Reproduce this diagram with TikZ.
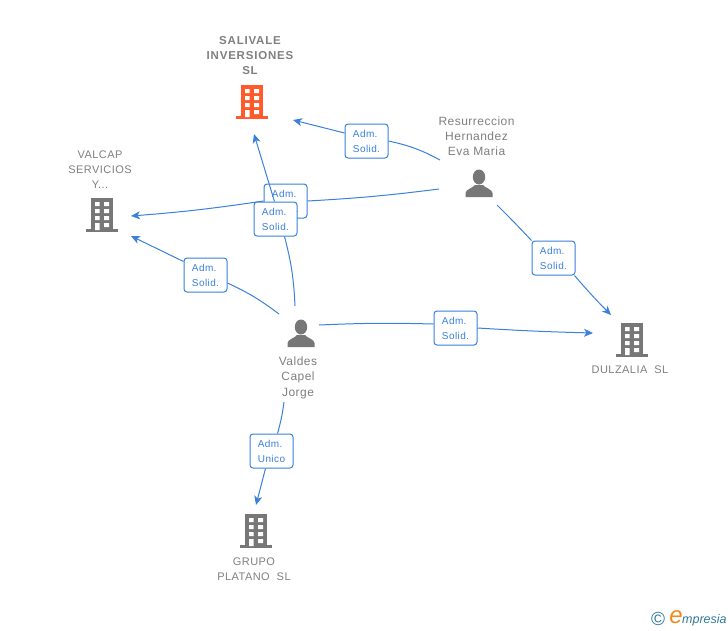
\documentclass[tikz,border=0pt]{standalone}
\usepackage{fontspec}
\setmainfont{Liberation Sans}
\newfontfamily\spaced[LetterSpace=4]{Liberation Sans}
\newfontfamily\spacedb[LetterSpace=7]{Liberation Sans}
\usetikzlibrary{arrows.meta}
\definecolor{linkblue}{HTML}{3A80DC}
\definecolor{icongray}{HTML}{777777}
\definecolor{txtgray}{HTML}{808080}
\definecolor{hotorange}{HTML}{FF5A2B}
\definecolor{tealb}{HTML}{2F7C96}
\definecolor{logoor}{HTML}{F08A1D}
\pgfdeclarelayer{edges}
\pgfdeclarelayer{lowbox}
\pgfdeclarelayer{midedge}
\pgfsetlayers{edges,lowbox,midedge,main}
\tikzset{
  x=1pt,y=-1pt,
  rolebox/.style={draw=linkblue,line width=1pt,fill=white,rounded corners=3pt,minimum width=43pt,minimum height=34pt,inner sep=0pt,align=left,text=linkblue,font=\fontsize{10}{15}\selectfont\spaced},
  linkline/.style={draw=linkblue,line width=1pt},
  linka/.style={linkline,-{Stealth[length=9pt,width=8pt,inset=2.5pt]}},
  holder/.style={minimum width=30pt,minimum height=30pt,inner sep=0pt},
  entname/.style={align=center,text=txtgray,inner sep=0pt},
  pics/tower/.style={code={
    \fill[#1] (-11,-17) rectangle (11,15);
    \fill[#1] (-16,14) rectangle (16,17);
    \fill[white] (-7,-13) rectangle (-2.5,-9) (2,-13) rectangle (7,-9)
                 (-7,-6) rectangle (-2.5,-2) (2,-6) rectangle (7,-2)
                 (-7,1) rectangle (-2.5,5) (2,1) rectangle (7,5)
                 (-7,8) rectangle (-2.5,15) (2,8) rectangle (7,12);
  }},
  pics/human/.style={code={
    \fill[icongray] (0,-7) ellipse (6.2 and 7.5);
    \fill[icongray] (-13.5,13) -- (-13.5,9) .. controls (-13,5) and (-6,4) .. (-4,1) -- (4,1) .. controls (6,4) and (13,5) .. (13.5,9) -- (13.5,13) -- cycle;
  }}
}
\begin{document}
\begin{tikzpicture}
\begin{pgfonlayer}{edges}
\fill[white] (0,0) rectangle (728,630);
\end{pgfonlayer}
\useasboundingbox (0,0) rectangle (728,630);
% icons
\node[holder] (sal) at (252,102) {}; \pic at (sal.center) {tower=hotorange};
\node[holder] (val) at (102,215) {}; \pic at (val.center) {tower=icongray};
\node[holder] (dul) at (632,340) {}; \pic at (dul.center) {tower=icongray};
\node[holder] (gru) at (256,531) {}; \pic at (gru.center) {tower=icongray};
\node[holder] (res) at (479,184) {}; \pic at (res.center) {human};
\node[holder] (vcj) at (301,334) {}; \pic at (vcj.center) {human};
% names
\node[entname,font=\fontsize{11.5}{15}\selectfont\bfseries\spacedb] (tsal) at (250,56) {SALIVALE\\INVERSIONES\\SL};
\node[entname,font=\fontsize{11}{15}\selectfont\spaced] (tval) at (100,170) {VALCAP\\SERVICIOS\\Y...};
\node[entname,font=\fontsize{11}{15}\selectfont\spaced] (tdul) at (630,370) {DULZALIA\ \ SL};
\node[entname,font=\fontsize{11}{15}\selectfont\spaced] (tgru) at (254,569) {GRUPO\\PLATANO\ \ SL};
\node[entname,font=\fontsize{12}{15}\selectfont\spaced] (tres) at (476.5,136) {Resurreccion\\Hernandez\\Eva Maria};
\node[entname,font=\fontsize{12}{15.5}\selectfont\spaced] (tvcj) at (298,377.5) {Valdes\\Capel\\Jorge};
% role boxes
\node[rolebox] (b1) at (366.5,141) {Adm.\\Solid.};
\begin{pgfonlayer}{lowbox}
\node[rolebox] (b2) at (285.5,201) {Adm.\\Solid.};
\end{pgfonlayer}
\node[rolebox] (b3) at (275.5,219) {Adm.\\Solid.};
\node[rolebox] (b4) at (205.5,275) {Adm.\\Solid.};
\node[rolebox] (b5) at (455.5,328) {Adm.\\Solid.};
\node[rolebox] (b6) at (553.5,258) {Adm.\\Solid.};
\node[rolebox] (b7) at (271.5,451) {Adm.\\Unico};
% connectors
\begin{pgfonlayer}{edges}
\draw[linkline] ([shift={(-39,-24)}]res.center) to[bend right=8] (b1.east);
\draw[linka] ([shift={(0,-8)}]b1.west) to ([shift={(41,18)}]sal.center);
\draw[linkline] ([shift={(-40,5)}]res.center) to[bend left=2] (b2.east);
\draw[linka] (b2.west) to[bend left=2] ([shift={(29,1)}]val.center);
\draw[linkline] ([shift={(-6,-28)}]vcj.center) to[bend right=6] ([shift={(9,0)}]b3.south);
\draw[linkline] ([shift={(-22,-20)}]vcj.center) to[bend right=6] ([shift={(0,8)}]b4.east);
\draw[linka] ([shift={(0,4)}]b4.north west) to ([shift={(29,21)}]val.center);
\draw[linkline] ([shift={(18,-9)}]vcj.center) to[bend left=2] ([shift={(0,-4)}]b5.west);
\draw[linka] (b5.east) to[bend right=1] ([shift={(-39,-7)}]dul.center);
\draw[linkline] ([shift={(18,21)}]res.center) to[bend left=1] (b6.north west);
\draw[linka] ([shift={(-1,0)}]b6.south east) to[bend right=2] ([shift={(-21,-25)}]dul.center);
\draw[linkline] ([shift={(-17,68)}]vcj.center) to[bend left=4] ([shift={(6,0)}]b7.north);
\draw[linka] ([shift={(-6,0)}]b7.south) to ([shift={(0,-26)}]gru.center);
\end{pgfonlayer}
\begin{pgfonlayer}{midedge}
\draw[linka] ([shift={(-1,0)}]b3.north) to ([shift={(2,32)}]sal.center);
\end{pgfonlayer}
% logo
\node[inner sep=0pt,text=tealb,font=\fontsize{19}{19}\selectfont] (copy) at (658,619) {©};
\node[inner sep=0pt,text=logoor,font=\fontsize{24}{24}\selectfont\itshape] (loge) at (676,617) {e};
\node[inner sep=0pt,text=tealb,anchor=west,font=\fontsize{12.5}{14}\selectfont\itshape] (logt) at (682,620) {mpresia};
\end{tikzpicture}
\end{document}
